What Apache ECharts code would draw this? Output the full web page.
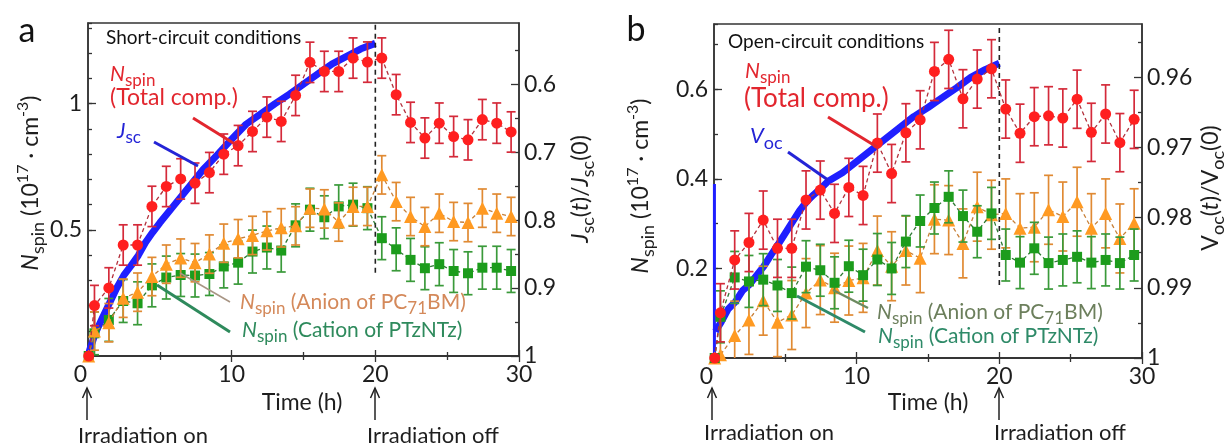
<!DOCTYPE html>
<html><head><meta charset="utf-8">
<script src="https://cdn.jsdelivr.net/npm/echarts@6/dist/echarts.min.js"></script>
<style>html,body{margin:0;padding:0;background:#fff}#c{width:1228px;height:446px}</style>
</head><body><div id="c"></div>
<script>
// ---------------- DATA ----------------
// ESR sample times (h); first entry is the start of irradiation
const timesA = [0.05,0.45,1.45,2.45,3.45,4.45,5.45,6.45,7.45,8.45,9.45,10.45,11.45,12.45,13.45,14.45,15.45,16.45,17.45,18.45,19.45,20.45,21.45,22.45,23.45,24.45,25.45,26.45,27.45,28.45,29.45];
const timesB = [0.05,0.45,1.45,2.45,3.45,4.45,5.45,6.45,7.45,8.45,9.45,10.45,11.45,12.45,13.45,14.45,15.45,16.45,17.45,18.45,19.45,20.45,21.45,22.45,23.45,24.45,25.45,26.45,27.45,28.45,29.45];

// panel a (short-circuit), Nspin in 1e17 cm^-3
const totalA  = [0,0.20,0.27,0.44,0.44,0.593,0.672,0.702,0.685,0.727,0.80,0.834,0.89,0.947,0.93,1.033,1.164,1.128,1.128,1.181,1.165,1.181,1.036,0.926,0.864,0.923,0.87,0.857,0.937,0.923,0.888];
const anionA  = [0,0.099,0.132,0.229,0.253,0.315,0.364,0.388,0.37,0.404,0.447,0.465,0.478,0.496,0.508,0.516,0.586,0.583,0.531,0.593,0.593,0.718,0.612,0.553,0.513,0.566,0.533,0.529,0.586,0.566,0.553];
const cationA = [0,0.09,0.143,0.218,0.209,0.28,0.311,0.321,0.319,0.325,0.355,0.37,0.414,0.43,0.418,0.518,0.58,0.55,0.593,0.6,0.586,0.467,0.423,0.381,0.348,0.364,0.337,0.328,0.35,0.35,0.337];
const errTotalA = 0.08, errAnionA = 0.076, errCationA = 0.085;

// panel b (open-circuit)
const totalB  = [0,0.101,0.219,0.258,0.308,0.245,0.245,0.353,0.375,0.323,0.381,0.363,0.48,0.412,0.503,0.532,0.64,0.667,0.579,0.623,0.646,0.556,0.502,0.539,0.541,0.536,0.578,0.504,0.545,0.481,0.533];
const anionB  = [0,0.007,0.05,0.085,0.128,0.08,0.096,0.145,0.174,0.157,0.173,0.179,0.24,0.205,0.24,0.223,0.31,0.308,0.256,0.338,0.32,0.323,0.29,0.292,0.331,0.316,0.349,0.29,0.323,0.267,0.301];
const cationB = [0,0.092,0.18,0.171,0.175,0.162,0.145,0.204,0.196,0.168,0.205,0.185,0.22,0.2,0.26,0.306,0.335,0.36,0.317,0.282,0.323,0.23,0.213,0.245,0.212,0.219,0.226,0.213,0.219,0.212,0.23];
const errTotalB = 0.065, errAnionB = 0.077, errCationB = 0.058;

// device traces (right axes, inverted)
const jscTimes = [0,0.15,0.5,1,1.5,2,2.5,3,3.5,4,4.5,5,6,7,8,9,10,11,12,13,14,15,16,17,18,19,20];
const jscRatio = [1,0.989,0.967,0.944,0.922,0.900,0.881,0.867,0.852,0.833,0.818,0.804,0.778,0.752,0.726,0.704,0.681,0.659,0.644,0.629,0.615,0.600,0.585,0.570,0.559,0.548,0.540];
const vocTimes = [0.1,0.5,1,1.5,2,2.5,3,3.5,4,4.5,5,5.5,6,6.5,7,7.5,8,9,10,11,12,13,14,15,16,17,18,19,20];
const vocRatio = [0.9962,0.9949,0.993,0.992,0.9904,0.9895,0.9882,0.9869,0.9853,0.9838,0.9822,0.9806,0.979,0.9777,0.9767,0.9758,0.9748,0.9736,0.972,0.9704,0.9688,0.9672,0.9656,0.9643,0.9629,0.9615,0.96,0.9589,0.958];
const vocSpikeTimes = [0.03,0.03];
const vocSpike = [1,0.9752];

// irradiation-off marker (h) and extent of dashed line
const offTime = 20;
const offDashA = [0.33, 1.32];
const offDashB = [0.163, 0.746];

// axis ticks
const leftMajorA = [0.5,1];
const rightMajorA = [0.6,0.7,0.8,0.9,1];
const rightMinorA = [0.55,0.65,0.75,0.85,0.95];
const leftMajorB = [0.2,0.4,0.6];
const rightMajorB = [0.96,0.97,0.98,0.99,1];
const rightMinorB = [0.955,0.965,0.975,0.985,0.995];

// ---------------- STYLE ----------------
const F = 'Lato, "Open Sans", "DejaVu Sans", sans-serif';
const INK = '#1e1e1e';
const AX = '#333';
const TICKFS = 23;
const C = {
  red: '#ff1f1f', redErr: '#d42a3a', redLine: '#b3303c',
  org: '#ff9a22', orgErr: '#e08a33', orgLine: '#c88038',
  grn: '#1c9c1c', grnErr: '#3a9a3a', grnLine: '#2f7a34',
  blue: '#1f1fff'
};

const chart = echarts.init(document.getElementById('c'), null, {renderer: 'canvas'});

const grids = [
  {left: 88, top: 23, width: 431, height: 333},
  {left: 714, top: 24, width: 428, height: 334}
];

function xAxes(gi) {
  const base = {
    gridIndex: gi, type: 'value', min: 0, max: 30, interval: 10,
    axisLine: {show: true, lineStyle: {color: AX, width: 1.5}},
    axisTick: {show: true, inside: true, length: 6, lineStyle: {color: AX, width: 1.3}},
    minorTick: {show: true, splitNumber: 2, length: 4, lineStyle: {color: AX, width: 1.3}},
    splitLine: {show: false}, minorSplitLine: {show: false}
  };
  return [
    Object.assign({}, base, {position: 'bottom',
      axisLabel: {margin: 7, fontSize: TICKFS, fontFamily: F, color: INK,
        formatter: v => v === 0 ? '{z|0}' : String(v),
        rich: {z: {padding: [0, 15, 0, 0], fontSize: TICKFS, fontFamily: F, color: INK}}}}),
    Object.assign({}, base, {position: 'top', axisLabel: {show: false}})
  ];
}

function yAxesLeft(gi, max, majorVals, minorStep) {
  return [
    {gridIndex: gi, type: 'value', position: 'left', min: 0, max: max,
     axisLine: {show: true, lineStyle: {color: AX, width: 1.5}},
     axisTick: {show: true, inside: true, length: 8, customValues: majorVals, lineStyle: {color: AX, width: 1.3}},
     axisLabel: {show: true, customValues: majorVals, margin: 6, fontSize: TICKFS, fontFamily: F, color: INK,
       formatter: v => String(+v.toFixed(2))},
     splitLine: {show: false}},
    {gridIndex: gi, type: 'value', position: 'left', min: 0, max: max, interval: minorStep,
     axisLine: {show: false},
     axisTick: {show: true, inside: true, length: 4, lineStyle: {color: AX, width: 1.3}},
     axisLabel: {show: false}, splitLine: {show: false}}
  ];
}

function yAxesRight(gi, min, majorVals, minorVals, digits) {
  return [
    {gridIndex: gi, type: 'value', position: 'right', inverse: true, min: min, max: 1,
     axisLine: {show: true, lineStyle: {color: AX, width: 1.5}},
     axisTick: {show: true, inside: true, length: 8, customValues: majorVals, lineStyle: {color: AX, width: 1.3}},
     axisLabel: {show: true, customValues: majorVals, margin: 5, fontSize: TICKFS, fontFamily: F, color: INK,
       formatter: v => Math.abs(v - 1) < 1e-9 ? '1' : v.toFixed(digits)},
     splitLine: {show: false}},
    {gridIndex: gi, type: 'value', position: 'right', inverse: true, min: min, max: 1,
     axisLine: {show: false},
     axisTick: {show: true, inside: true, length: 4, customValues: minorVals, lineStyle: {color: AX, width: 1.3}},
     axisLabel: {show: false}, splitLine: {show: false}}
  ];
}

const xAxis = [...xAxes(0), ...xAxes(1)];
// y axes: 0,1 left a ; 2,3 right a ; 4,5 left b ; 6,7 right b
const yAxis = [
  ...yAxesLeft(0, 1.32, leftMajorA, 0.1),
  ...yAxesRight(0, 0.51, rightMajorA, rightMinorA, 1),
  ...yAxesLeft(1, 0.746, leftMajorB, 0.1),
  ...yAxesRight(1, 0.9524, rightMajorB, rightMinorB, 2)
];

function pairs(ts, vs) { return ts.map((t, i) => [t, vs[i]]); }

function errSeries(xi, yi, ts, vs, err, color, z) {
  const data = [];
  ts.forEach((t, i) => { if (vs[i] > 0) data.push([t, vs[i] - err, vs[i] + err]); });
  return {
    type: 'custom', xAxisIndex: xi, yAxisIndex: yi, z: z, silent: true, clip: true,
    data: data,
    renderItem: function (params, api) {
      const lo = api.coord([api.value(0), api.value(1)]);
      const hi = api.coord([api.value(0), api.value(2)]);
      const w = 4.5;
      const st = {stroke: color, lineWidth: 1.7};
      return {type: 'group', children: [
        {type: 'line', shape: {x1: lo[0], y1: lo[1], x2: hi[0], y2: hi[1]}, style: st},
        {type: 'line', shape: {x1: lo[0] - w, y1: lo[1], x2: lo[0] + w, y2: lo[1]}, style: st},
        {type: 'line', shape: {x1: hi[0] - w, y1: hi[1], x2: hi[0] + w, y2: hi[1]}, style: st}
      ]};
    }
  };
}

function markSeries(xi, yi, ts, vs, symbol, size, color, lineColor, z) {
  return {
    type: 'line', xAxisIndex: xi, yAxisIndex: yi, z: z, silent: true,
    data: pairs(ts, vs), symbol: symbol, symbolSize: size, showSymbol: true,
    itemStyle: {color: color, borderWidth: 0},
    lineStyle: {color: lineColor, width: 1.3, type: [4, 3]}
  };
}

const series = [
  // panel a
  {type: 'line', xAxisIndex: 0, yAxisIndex: 2, data: pairs(jscTimes, jscRatio), showSymbol: false,
   lineStyle: {color: C.blue, width: 7, join: 'round'}, z: 2, silent: true},
  {type: 'line', xAxisIndex: 0, yAxisIndex: 0, data: offDashA.map(v => [offTime, v]), showSymbol: false,
   lineStyle: {color: '#222', width: 1.6, type: [5, 4]}, z: 3, silent: true},
  errSeries(0, 0, timesA, cationA, errCationA, C.grnErr, 4),
  markSeries(0, 0, timesA, cationA, 'rect', 10, C.grn, C.grnLine, 5),
  errSeries(0, 0, timesA, anionA, errAnionA, C.orgErr, 6),
  markSeries(0, 0, timesA, anionA, 'triangle', 13, C.org, C.orgLine, 7),
  errSeries(0, 0, timesA, totalA, errTotalA, C.redErr, 8),
  markSeries(0, 0, timesA, totalA, 'circle', 11, C.red, C.redLine, 9),
  // panel b
  {type: 'line', xAxisIndex: 2, yAxisIndex: 6, data: pairs(vocTimes, vocRatio), showSymbol: false,
   lineStyle: {color: C.blue, width: 7, join: 'round'}, z: 2, silent: true},
  {type: 'line', xAxisIndex: 2, yAxisIndex: 6, data: pairs(vocSpikeTimes, vocSpike), showSymbol: false,
   lineStyle: {color: C.blue, width: 3}, z: 2, silent: true},
  {type: 'line', xAxisIndex: 2, yAxisIndex: 4, data: offDashB.map(v => [offTime, v]), showSymbol: false,
   lineStyle: {color: '#222', width: 1.6, type: [5, 4]}, z: 3, silent: true},
  errSeries(2, 4, timesB, anionB, errAnionB, C.orgErr, 4),
  markSeries(2, 4, timesB, anionB, 'triangle', 13, C.org, C.orgLine, 5),
  errSeries(2, 4, timesB, cationB, errCationB, C.grnErr, 6),
  markSeries(2, 4, timesB, cationB, 'rect', 10, C.grn, C.grnLine, 7),
  errSeries(2, 4, timesB, totalB, errTotalB, C.redErr, 8),
  markSeries(2, 4, timesB, totalB, 'circle', 11, C.red, C.redLine, 9)
];

// ---------------- ANNOTATIONS ----------------
function rs(color, size) {
  const lh = Math.round(size * 1.45);
  const sub = Math.round(size * 0.8);
  return {
    t: {fontFamily: F, fill: color, color: color, fontSize: size, lineHeight: lh},
    i: {fontFamily: F, fill: color, color: color, fontSize: size, lineHeight: lh, fontStyle: 'italic'},
    s: {fontFamily: F, fill: color, color: color, fontSize: sub, lineHeight: sub + 1, verticalAlign: 'bottom'},
    p: {fontFamily: F, fill: color, color: color, fontSize: Math.round(size * 0.7), lineHeight: Math.round(size * 0.7) + 1, verticalAlign: 'top'}
  };
}
function T(x, y, text, color, size, align, rot) {
  return {type: 'text', x: x, y: y, rotation: rot || 0, z: 100, silent: true,
    style: {text: text, rich: rs(color, size), fill: color, fontFamily: F, fontSize: size,
      align: align || 'left', verticalAlign: 'middle', textAlign: align || 'left', textVerticalAlign: 'middle'}};
}
function L(x1, y1, x2, y2, color, w) {
  return {type: 'line', z: 100, silent: true, shape: {x1: x1, y1: y1, x2: x2, y2: y2},
    style: {stroke: color, lineWidth: w}};
}
function arrow(x, yTip, yEnd) {
  return [
    L(x, yTip, x, yEnd, '#222', 1.5),
    {type: 'polyline', z: 100, silent: true, shape: {points: [[x - 4.5, yTip + 10], [x, yTip], [x + 4.5, yTip + 10]]},
     style: {stroke: '#222', lineWidth: 1.5, fill: null}}
  ];
}

const RED = '#e2262e', BLUE = '#2424d6';
const graphic = [
  T(27, 31, '{t|a}', '#111', 34, 'center'),
  T(636, 30, '{t|b}', '#111', 34, 'center'),
  T(106, 38, '{t|Short-circuit conditions}', '#111', 19),
  T(728, 42, '{t|Open-circuit conditions}', '#111', 19),
  // panel a labels
  T(110, 74, '{i|N}{s|spin}', RED, 21),
  T(110, 98, '{t|(Total comp.)}', RED, 23),
  T(117, 131, '{i|J}{s|sc}', BLUE, 21),
  L(193, 118, 238, 146, RED, 3),
  L(154, 142, 198, 166, BLUE, 3),
  T(240, 302, '{i|N}{s|spin}{t| (Anion of PC}{s|71}{t|BM)}', '#d4895a', 21),
  T(242, 330, '{i|N}{s|spin}{t| (Cation of PTzNTz)}', '#2e8a5c', 21),
  L(180, 273, 230, 302, '#a89584', 1.5),
  L(157, 285, 230, 332, '#2e8a5c', 3),
  // panel b labels
  T(745, 71, '{i|N}{s|spin}', RED, 21),
  T(744, 99, '{t|(Total comp.)}', RED, 26),
  T(750, 136, '{i|V}{s|oc}', BLUE, 22),
  L(828, 117, 877, 147, RED, 3),
  L(788, 152, 828, 180, BLUE, 3),
  T(877, 312, '{i|N}{s|spin}{t| (Anion of PC}{s|71}{t|BM)}', '#6c7f5c', 21),
  T(878, 336, '{i|N}{s|spin}{t| (Cation of PTzNTz)}', '#2e8a68', 21),
  L(833, 290, 868, 308, '#6c8a60', 2.5),
  L(797, 296, 865, 332, '#2e8a68', 3),
  // axis titles
  T(302, 403, '{t|Time (h)}', INK, 23, 'center'),
  T(928, 403, '{t|Time (h)}', INK, 23, 'center'),
  T(143, 436, '{t|Irradiation on}', INK, 22, 'center'),
  T(433, 436, '{t|Irradiation off}', INK, 22, 'center'),
  T(769, 433, '{t|Irradiation on}', INK, 22, 'center'),
  T(1060, 433, '{t|Irradiation off}', INK, 22, 'center'),
  ...arrow(87, 388, 420), ...arrow(375, 388, 420),
  ...arrow(712, 388, 420), ...arrow(999, 388, 420),
  T(31, 183, '{i|N}{s|spin}{t| (10}{p|17}{t| · cm}{p|-3}{t|)}', INK, 23, 'center', Math.PI / 2),
  T(581, 189, '{i|J}{s|sc}{t|(}{i|t}{t|)/}{i|J}{s|sc}{t|(0)}', INK, 23, 'center', Math.PI / 2),
  T(641, 186, '{i|N}{s|spin}{t| (10}{p|17}{t| · cm}{p|-3}{t|)}', INK, 23, 'center', Math.PI / 2),
  T(1211, 188, '{t|V}{s|oc}{t|(}{i|t}{t|)/V}{s|oc}{t|(0)}', INK, 23, 'center', Math.PI / 2)
];

chart.setOption({
  animation: false,
  backgroundColor: '#fff',
  grid: grids.map(g => Object.assign({show: true, borderColor: AX, borderWidth: 1.5, backgroundColor: 'transparent', containLabel: false}, g)),
  xAxis: xAxis,
  yAxis: yAxis,
  series: series,
  graphic: graphic
});
</script>
</body></html>
